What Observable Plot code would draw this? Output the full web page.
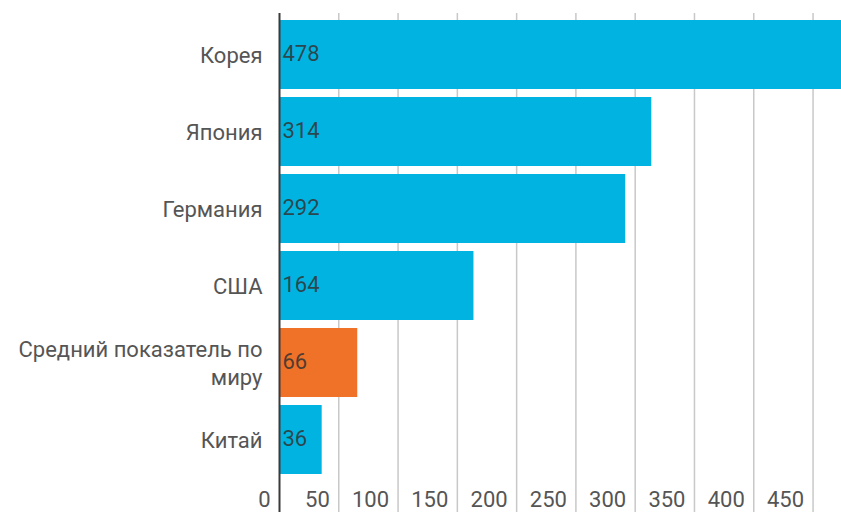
<!DOCTYPE html>
<html>
<head>
<meta charset="utf-8">
<script src="https://cdn.jsdelivr.net/npm/d3@7"></script>
<script src="https://cdn.jsdelivr.net/npm/@observablehq/plot@0.6"></script>
<style>
  html, body { margin: 0; padding: 0; background: #fff; overflow: hidden; }
  #chart svg { display: block; }
</style>
</head>
<body>
<div id="chart"></div>
<script>
const countries = ["Корея", "Япония", "Германия", "США", "Средний показатель по\nмиру", "Китай"];
const values = [478, 314, 292, 164, 66, 36];
const highlight = [false, false, false, false, true, false];
const tickValues = [0, 50, 100, 150, 200, 250, 300, 350, 400, 450];

const data = countries.map((c, i) => ({country: c, value: values[i], hi: highlight[i]}));

const chart = Plot.plot({
  width: 841,
  height: 512,
  marginLeft: 279,
  marginRight: 0,
  marginTop: 13,
  marginBottom: 0,
  style: {fontFamily: "Roboto, sans-serif", background: "#fff"},
  x: {domain: [0, 474], range: [279, 841], clamp: true, axis: null},
  y: {domain: countries, range: [11.5, 482.5], padding: 0.1, axis: null},
  marks: [
    Plot.ruleX(tickValues.filter(d => d > 0), {stroke: "#c8c8c8", strokeWidth: 1.5}),
    Plot.barX(data, {
      x: "value", y: "country",
      fill: d => d.hi ? "#f07128" : "#00b3e1"
    }),
    Plot.ruleX([0], {stroke: "#3a3a3a", strokeWidth: 2}),
    Plot.text(data, {
      x: 0, y: "country", text: d => String(d.value),
      textAnchor: "start", dx: 3, dy: -1, fontSize: 22, fill: "#333", fillOpacity: 0.85
    }),
    Plot.text(data, {
      x: 0, y: "country", text: "country",
      textAnchor: "end", dx: -17, dy: -1, fontSize: 22, fill: "#555", lineHeight: 1.3
    }),
    Plot.text(tickValues, {
      x: d => d, text: d => String(d), frameAnchor: "bottom", lineAnchor: "bottom",
      textAnchor: "end", dx: -9, dy: -6, fontSize: 22, fill: "#555"
    })
  ]
});
document.getElementById("chart").appendChild(chart);
</script>
</body>
</html>
